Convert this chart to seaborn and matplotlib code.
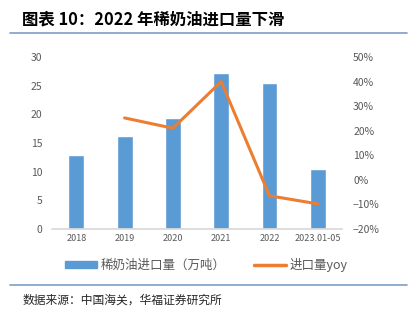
import matplotlib
matplotlib.use("Agg")
import matplotlib.pyplot as plt
import seaborn as sns
import numpy as np
import pandas as pd
from matplotlib.lines import Line2D
from matplotlib.patches import Patch

categories = ["2018", "2019", "2020", "2021", "2022", "2023.01-05"]
volume = [12.9, 16.2, 19.4, 27.2, 25.5, 10.5]
yoy = [np.nan, 25.2, 21.0, 40.0, -6.5, -9.8]

sns.set_theme(style="white")
plt.rcParams['font.family'] = ['Noto Sans CJK SC', 'DejaVu Sans']

BLUE = "#5B9BD5"
ORANGE = "#ED7D31"
GREY = "#595959"

fig = plt.figure(figsize=(4.17, 3.22), dpi=100)
ax = fig.add_axes([0.125, 0.289, 0.695, 0.534])

df = pd.DataFrame({"cat": categories, "vol": volume, "yoy": yoy})
sns.barplot(data=df, x="cat", y="vol", color=BLUE, width=0.33, ax=ax, saturation=1)
ax.set_ylim(0, 30)
ax.set_yticks([0, 5, 10, 15, 20, 25, 30])
ax.set_xlabel("")
ax.set_ylabel("")
ax.set_xlim(-0.5, 5.5)
for s in ["top", "right", "left"]:
    ax.spines[s].set_visible(False)
ax.spines["bottom"].set_color("#D9D9D9")
ax.tick_params(axis="y", labelsize=7.5, colors=GREY, length=0, pad=7)
ax.tick_params(axis="x", labelsize=6.5, colors=GREY, length=0, pad=4)

ax2 = ax.twinx()
df["pos"] = np.arange(len(categories))
sns.lineplot(data=df.dropna(), x="pos", y="yoy", color=ORANGE, linewidth=2.2, ax=ax2)
ax2.set_ylim(-20, 50)
ax2.set_yticks([-20, -10, 0, 10, 20, 30, 40, 50])
ax2.set_yticklabels([f"{v}%".replace("-", "−") for v in [-20, -10, 0, 10, 20, 30, 40, 50]])
ax2.set_ylabel("")
ax2.set_xlabel("")
ax2.set_xlim(-0.5, 5.5)
for s in ["top", "right", "left", "bottom"]:
    ax2.spines[s].set_visible(False)
ax2.tick_params(axis="y", labelsize=7.5, colors=GREY, length=0, pad=8)

handles = [Patch(color=BLUE), Line2D([0], [0], color=ORANGE, linewidth=2.5)]
labels = ["稀奶油进口量（万吨）", "进口量yoy"]
fig.legend(handles, labels, loc="center", bbox_to_anchor=(0.495, 0.177), ncol=2, frameon=False,
           fontsize=9, labelcolor=GREY, handlelength=2.6, handleheight=0.4, columnspacing=2.2,
           handletextpad=0.3)

fig.text(0.053, 0.94, "图表 10：2022 年稀奶油进口量下滑", fontsize=11.8, fontweight="bold",
         ha="left", va="center", color="black")
fig.add_artist(Line2D([0.024, 0.976], [0.897, 0.897], color="#7F9CC4", linewidth=1.2))
fig.add_artist(Line2D([0.024, 0.976], [0.115, 0.115], color="#7F9CC4", linewidth=1.2))
fig.text(0.053, 0.068, "数据来源：中国海关，华福证券研究所", fontsize=8.5, ha="left", va="center", color="#262626")

fig.savefig("out.png", dpi=100)
